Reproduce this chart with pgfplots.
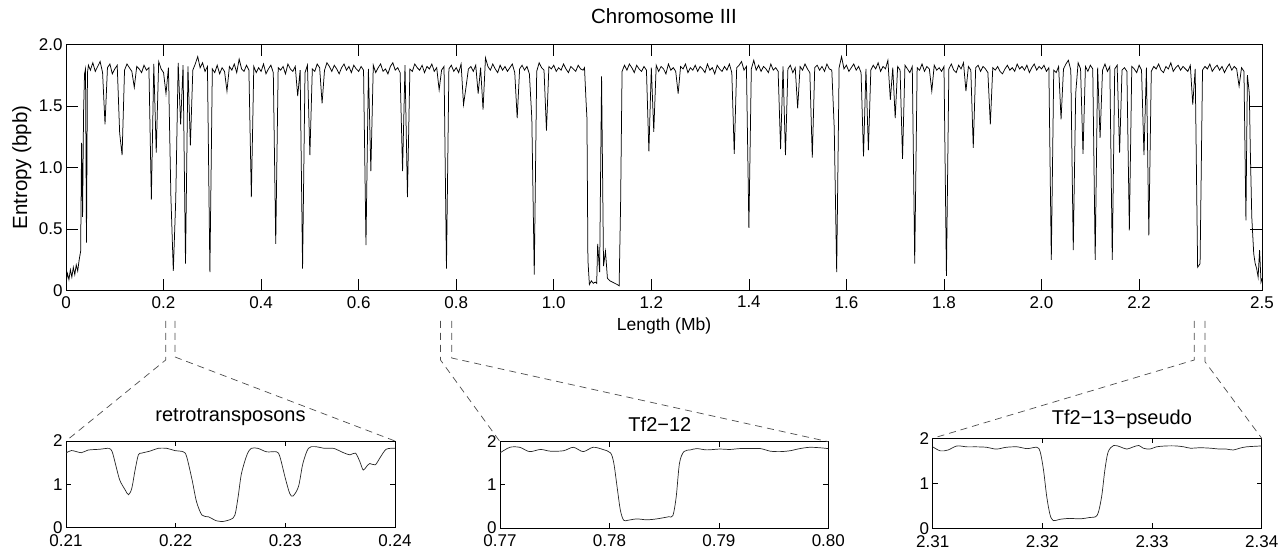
\documentclass[border=0pt]{standalone}
\usepackage{fontspec}
\setmainfont{Liberation Sans}
\usepackage{pgfplots}
\pgfplotsset{compat=1.18}
\pgfplotsset{
  base/.style={scale only axis, anchor=south west, axis line style={line width=0.8bp}, tick style={line width=0.7bp, black},
    tick align=inside, /pgf/number format/assume math mode=true,
    ticklabel style={font=\fontsize{17bp}{20bp}\selectfont}},
  inset/.style={base, major tick length=5bp, ymin=0, ymax=2, ytick={0,1,2}, yticklabels={0,1,2},
    xticklabel style={yshift=-3.5bp},
    title style={font=\fontsize{20bp}{24bp}\selectfont, anchor=base}},
}
\begin{document}
\begin{tikzpicture}[x=1bp,y=1bp]
\path[use as bounding box] (0,0) rectangle (1288,554);
% main
\begin{axis}[base, at={(66bp,263.3bp)}, width=1196bp, height=246.4bp,
  xmin=0, xmax=2452, ymin=0, ymax=2, major tick length=12bp,
  xtick={0,200,400,600,800,1000,1200,1400,1600,1800,2000,2200,2452},
  xticklabels={0,0.2,0.4,0.6,0.8,1.0,1.2,1.4,1.6,1.8,2.0,2.2,2.5},
  xticklabel style={yshift=-2bp},
  ytick={0,0.5,1,1.5,2}, yticklabels={0,0.5,1.0,1.5,2.0},
  title={Chromosome III}, title style={font=\fontsize{20.5bp}{24bp}\selectfont, at={(axis description cs:0.5,1.0917)}, anchor=center},
  xlabel={Length (Mb)}, xlabel style={font=\fontsize{17.5bp}{21bp}\selectfont, at={(axis description cs:0.5,-0.143)}, anchor=center},
  ylabel={Entropy (bpb)}, ylabel style={font=\fontsize{20.5bp}{24bp}\selectfont, at={(axis description cs:-0.037,0.5)}, anchor=center},
]
\addplot[black, line width=0.75bp] coordinates {
(0,0.06)(3,0.14)(6,0.09)(9,0.17)(12,0.11)(15,0.19)(18,0.13)(21,0.21)(24,0.16)(27,0.25)(30,0.32)(32,1.20)(34,0.60)(36,1.45)(38,1.76)(40,1.80)(42,0.39)(44,1.77)(46,1.83)(50,1.79)(55,1.85)(60,1.78)(65,1.82)(70,1.86)(75,1.77)(80,1.35)(85,1.81)(90,1.84)(95,1.76)
(100,1.80)(105,1.83)(110,1.28)(115,1.10)(120,1.79)(125,1.84)(130,1.81)(135,1.78)(140,1.65)(145,1.82)(150,1.80)(155,1.77)(160,1.83)(165,1.79)(170,1.81)(175,0.74)(180,1.84)(185,1.12)(190,1.86)(195,1.80)
(200,1.77)(205,1.60)(210,1.81)(215,0.77)(220,0.16)(225,0.74)(230,1.85)(235,1.35)(240,1.83)(245,0.22)(250,1.82)(255,1.18)(260,1.79)(265,1.84)(270,1.90)(275,1.81)(280,1.85)(285,1.78)(290,1.82)(295,0.15)
(300,1.80)(305,1.77)(310,1.83)(315,1.76)(320,1.81)(325,1.78)(330,1.62)(335,1.82)(340,1.79)(345,1.84)(350,1.77)(355,1.88)(360,1.80)(365,1.78)(370,1.83)(375,1.79)(380,0.76)(385,1.82)(390,1.77)(395,1.81)
(400,1.78)(405,1.84)(410,1.76)(415,1.80)(420,1.83)(425,1.77)(430,0.38)(435,1.81)(440,1.79)(445,1.82)(450,1.76)(455,1.84)(460,1.80)(465,1.78)(470,1.82)(475,1.58)(480,1.79)(485,0.18)(490,1.77)(495,1.83)
(500,1.10)(505,1.80)(510,1.78)(515,1.84)(520,1.81)(525,1.52)(530,1.79)(535,1.85)(540,1.82)(545,1.78)(550,1.83)(555,1.80)(560,1.76)(565,1.81)(570,1.84)(575,1.79)(580,1.82)(585,1.77)(590,1.83)(595,1.80)
(600,1.78)(605,1.82)(610,1.79)(615,0.37)(620,1.80)(625,0.97)(630,1.83)(635,1.77)(640,1.81)(645,1.84)(650,1.78)(655,1.80)(660,1.76)(665,1.82)(670,1.85)(675,1.79)(680,1.81)(685,1.77)(690,0.97)(695,1.83)
(700,0.76)(705,1.80)(710,1.78)(715,1.84)(720,1.81)(725,1.79)(730,1.83)(735,1.77)(740,1.82)(745,1.80)(750,1.84)(755,1.78)(760,1.81)(765,1.63)(770,1.79)(775,1.82)(780,0.18)(785,1.80)(790,1.83)(795,1.78)
(800,1.81)(805,1.77)(810,1.84)(815,1.51)(820,1.65)(825,1.80)(830,1.82)(835,1.78)(840,1.83)(845,1.60)(850,1.81)(855,1.47)(860,1.89)(865,1.82)(870,1.79)(875,1.84)(880,1.80)(885,1.77)(890,1.83)(895,1.79)
(900,1.82)(905,1.78)(910,1.81)(915,1.84)(920,1.77)(925,1.40)(930,1.80)(935,1.83)(940,1.79)(945,1.82)(950,1.76)(955,1.40)(960,0.13)(965,1.78)(970,1.85)(975,1.81)(980,1.79)(985,1.30)(990,1.82)(995,1.80)
(1000,1.83)(1005,1.78)(1010,1.81)(1015,1.79)(1020,1.84)(1025,1.80)(1030,1.77)(1035,1.82)(1040,1.80)(1045,1.78)(1050,1.83)(1055,1.80)(1060,1.79)(1063,1.81)(1066,1.55)(1068,1.40)(1070,0.25)(1073,0.05)(1077,0.08)(1081,0.06)(1085,0.07)(1088,0.06)(1090,0.38)(1094,0.15)(1098,1.74)(1102,0.20)(1106,0.32)(1110,0.10)(1115,0.08)(1120,0.07)(1125,0.06)(1130,0.05)(1134,0.04)(1137,0.70)(1140,1.78)(1145,1.83)
(1150,1.79)(1155,1.84)(1160,1.81)(1165,1.77)(1170,1.83)(1175,1.80)(1180,1.78)(1185,1.82)(1190,1.79)(1195,1.13)
(1200,1.81)(1205,1.29)(1210,1.83)(1215,1.78)(1220,1.82)(1225,1.80)(1230,1.76)(1235,1.84)(1240,1.79)(1245,1.81)(1250,1.78)(1255,1.60)(1260,1.82)(1265,1.80)(1270,1.84)(1275,1.77)(1280,1.81)(1285,1.79)(1290,1.83)(1295,1.78)
(1300,1.82)(1305,1.80)(1310,1.77)(1315,1.84)(1320,1.79)(1325,1.81)(1330,1.76)(1335,1.83)(1340,1.80)(1345,1.78)(1350,1.82)(1355,1.79)(1360,1.84)(1365,1.77)(1370,1.11)(1375,1.81)(1380,1.83)(1385,1.86)(1390,1.79)(1395,1.82)
(1400,0.51)(1405,1.80)(1410,1.87)(1415,1.79)(1420,1.83)(1425,1.78)(1430,1.82)(1435,1.80)(1440,1.77)(1445,1.84)(1450,1.79)(1455,1.81)(1460,1.78)(1465,1.15)(1470,1.82)(1475,1.10)(1480,1.80)(1485,1.83)(1490,1.77)(1495,1.81)
(1500,1.48)(1505,1.82)(1510,1.79)(1515,1.84)(1520,1.80)(1525,1.77)(1530,1.08)(1535,1.81)(1540,1.83)(1545,1.79)(1550,1.82)(1555,1.78)(1560,1.84)(1565,1.80)(1570,1.79)(1575,1.32)(1580,0.15)(1585,1.81)(1590,1.90)(1595,1.80)
(1600,1.83)(1605,1.78)(1610,1.81)(1615,1.84)(1620,1.79)(1625,1.82)(1630,1.77)(1635,1.09)(1640,1.80)(1645,1.14)(1650,1.79)(1655,1.83)(1660,1.80)(1665,1.85)(1670,1.78)(1675,1.82)(1680,1.80)(1685,1.87)(1690,1.55)(1695,1.81)
(1700,1.40)(1705,1.82)(1710,1.79)(1715,1.07)(1720,1.83)(1725,1.80)(1730,1.77)(1735,1.82)(1740,0.22)(1745,1.81)(1750,1.79)(1755,1.84)(1760,1.78)(1765,1.82)(1770,1.80)(1775,1.62)(1780,1.83)(1785,1.79)(1790,1.81)(1795,1.78)
(1800,1.82)(1805,0.12)(1810,1.80)(1815,1.84)(1820,1.79)(1825,1.77)(1830,1.83)(1835,1.80)(1840,1.85)(1845,1.62)(1850,1.82)(1855,1.79)(1860,1.16)(1865,1.81)(1870,1.83)(1875,1.78)(1880,1.82)(1885,1.80)(1890,1.77)(1895,1.35)
(1900,1.81)(1905,1.79)(1910,1.82)(1915,1.78)(1920,1.76)(1925,1.80)(1930,1.83)(1935,1.79)(1940,1.81)(1945,1.78)(1950,1.84)(1955,1.80)(1960,1.82)(1965,1.79)(1970,1.83)(1975,1.77)(1980,1.81)(1985,1.84)(1990,1.79)(1995,1.82)
(2000,1.80)(2005,1.83)(2010,1.78)(2015,1.81)(2020,0.25)(2025,1.79)(2030,1.77)(2035,1.82)(2040,1.39)(2045,1.80)(2050,1.84)(2055,1.87)(2060,1.79)(2065,0.33)(2070,1.60)(2075,1.85)(2080,1.80)(2085,1.11)(2090,1.82)(2095,1.78)
(2100,1.83)(2105,1.80)(2110,0.25)(2115,1.81)(2120,1.24)(2125,1.79)(2130,1.84)(2135,1.78)(2140,1.82)(2145,0.25)(2150,1.80)(2155,1.83)(2160,1.12)(2165,1.79)(2170,1.81)(2175,1.78)(2180,0.49)(2185,1.82)(2190,1.80)(2195,1.77)
(2200,1.83)(2205,1.79)(2210,1.10)(2215,1.81)(2220,0.45)(2225,1.78)(2230,1.82)(2235,1.80)(2240,1.84)(2245,1.79)(2250,1.77)(2255,1.82)(2260,1.80)(2265,1.85)(2270,1.78)(2275,1.81)(2280,1.83)(2285,1.79)(2290,1.82)(2295,1.80)
(2300,1.78)(2305,1.83)(2310,1.51)(2315,1.80)(2320,0.19)(2325,0.22)(2330,1.79)(2335,1.82)(2340,1.80)(2345,1.84)(2350,1.78)(2355,1.81)(2360,1.83)(2365,1.79)(2370,1.82)(2375,1.77)(2380,1.81)(2385,1.84)(2390,1.79)(2395,1.82)
(2400,1.80)(2405,1.66)(2410,1.81)(2415,1.78)(2419,0.57)(2422,1.75)(2426,1.60)(2428,1.14)(2431,0.60)(2435,0.30)(2438,0.22)(2441,0.18)(2444,0.11)(2447,0.33)(2450,0.07)(2452,0.10)
};
\end{axis}
% inset 1
\begin{axis}[inset, at={(66bp,26.3bp)}, width=329bp, height=86.7bp,
  xmin=0.21, xmax=0.24, xtick={0.21,0.22,0.23,0.24}, xticklabels={0.21,0.22,0.23,0.24},
  title={retrotransposons}, title style={at={(axis description cs:0.5,1.161)}}]
\addplot[black!85, line width=0.7bp, smooth] coordinates {
(0.2100,1.72)(0.2105,1.78)(0.2114,1.73)(0.2120,1.79)(0.2131,1.81)(0.2139,1.83)(0.2142,1.76)(0.2145,1.48)(0.2149,1.10)(0.2154,0.87)(0.2157,0.76)(0.2160,0.91)(0.2163,1.33)(0.2166,1.68)(0.2169,1.72)(0.2177,1.77)(0.2184,1.83)(0.2192,1.83)(0.2199,1.78)(0.2207,1.75)(0.2210,1.64)(0.2215,1.10)(0.2219,0.60)(0.2224,0.29)(0.2230,0.25)(0.2237,0.16)(0.2242,0.14)(0.2250,0.19)(0.2254,0.29)(0.2257,0.72)(0.2260,1.25)(0.2265,1.68)(0.2269,1.83)(0.2275,1.83)(0.2283,1.75)(0.2292,1.75)(0.2295,1.64)(0.2300,1.14)(0.2304,0.79)(0.2307,0.73)(0.2312,0.95)(0.2316,1.48)(0.2321,1.83)(0.2327,1.87)(0.2336,1.83)(0.2344,1.83)(0.2353,1.73)(0.2359,1.68)(0.2364,1.72)(0.2368,1.52)(0.2371,1.33)(0.2374,1.41)(0.2377,1.48)(0.2382,1.45)(0.2386,1.60)(0.2392,1.81)(0.2400,1.83)
};
\end{axis}
% inset 2
\begin{axis}[inset, at={(500bp,26bp)}, width=328.3bp, height=86.3bp,
  xmin=0.77, xmax=0.80, xtick={0.77,0.78,0.79,0.80}, xticklabels={0.77,0.78,0.79,0.80},
  title={Tf2−12}, title style={at={(axis description cs:0.487,1.05)}}]
\addplot[black!85, line width=0.7bp, smooth] coordinates {
(0.7700,1.74)(0.7709,1.87)(0.7718,1.87)(0.7727,1.77)(0.7737,1.82)(0.7746,1.78)(0.7758,1.79)(0.7767,1.87)(0.7776,1.77)(0.7785,1.87)(0.7794,1.82)(0.7801,1.74)(0.7804,1.50)(0.7807,0.95)(0.7810,0.41)(0.7813,0.18)(0.7817,0.18)(0.7825,0.21)(0.7834,0.19)(0.7843,0.21)(0.7854,0.26)(0.7858,0.29)(0.7861,0.72)(0.7864,1.50)(0.7868,1.77)(0.7874,1.81)(0.7880,1.84)(0.7889,1.81)(0.7901,1.83)(0.7910,1.82)(0.7919,1.84)(0.7928,1.84)(0.7938,1.84)(0.7947,1.78)(0.7956,1.77)(0.7965,1.79)(0.7974,1.84)(0.7983,1.87)(0.7992,1.86)(0.8000,1.84)
};
\end{axis}
% inset 3
\begin{axis}[inset, at={(932.7bp,25.7bp)}, width=329bp, height=90bp,
  xmin=2.31, xmax=2.34, xtick={2.31,2.32,2.33,2.34}, xticklabels={2.31,2.32,2.33,2.34},
  title={Tf2−13−pseudo}, title style={at={(axis description cs:0.575,1.092)}}]
\addplot[black!85, line width=0.7bp, smooth] coordinates {
(2.3100,1.81)(2.3107,1.72)(2.3114,1.74)(2.3122,1.83)(2.3131,1.81)(2.3140,1.81)(2.3149,1.80)(2.3158,1.76)(2.3167,1.80)(2.3177,1.81)(2.3186,1.77)(2.3195,1.80)(2.3198,1.70)(2.3201,1.30)(2.3204,0.70)(2.3207,0.30)(2.3210,0.17)(2.3216,0.20)(2.3225,0.22)(2.3234,0.21)(2.3243,0.24)(2.3250,0.29)(2.3254,0.70)(2.3257,1.30)(2.3260,1.70)(2.3265,1.84)(2.3271,1.81)(2.3277,1.76)(2.3283,1.81)(2.3288,1.84)(2.3292,1.78)(2.3298,1.76)(2.3304,1.81)(2.3313,1.83)(2.3322,1.83)(2.3329,1.81)(2.3335,1.78)(2.3344,1.79)(2.3353,1.78)(2.3362,1.76)(2.3368,1.76)(2.3374,1.74)(2.3380,1.78)(2.3386,1.81)(2.3400,1.83)
};
\end{axis}
% connector lines
\begin{scope}[dash pattern=on 7bp off 5bp, line width=0.7bp, black!70]
\draw (165.7,233) -- (165.7,194) -- (66,113);
\draw (175,233) -- (175,197) -- (395,113);
\draw (440.5,233) -- (440.5,194) -- (500,112.3);
\draw (451.7,233) -- (451.7,196) -- (828.3,112.3);
\draw (1194.3,233) -- (1194.3,194) -- (932.7,115.7);
\draw (1205,233) -- (1205,192.3) -- (1261.7,115.7);
\end{scope}
\end{tikzpicture}
\end{document}
